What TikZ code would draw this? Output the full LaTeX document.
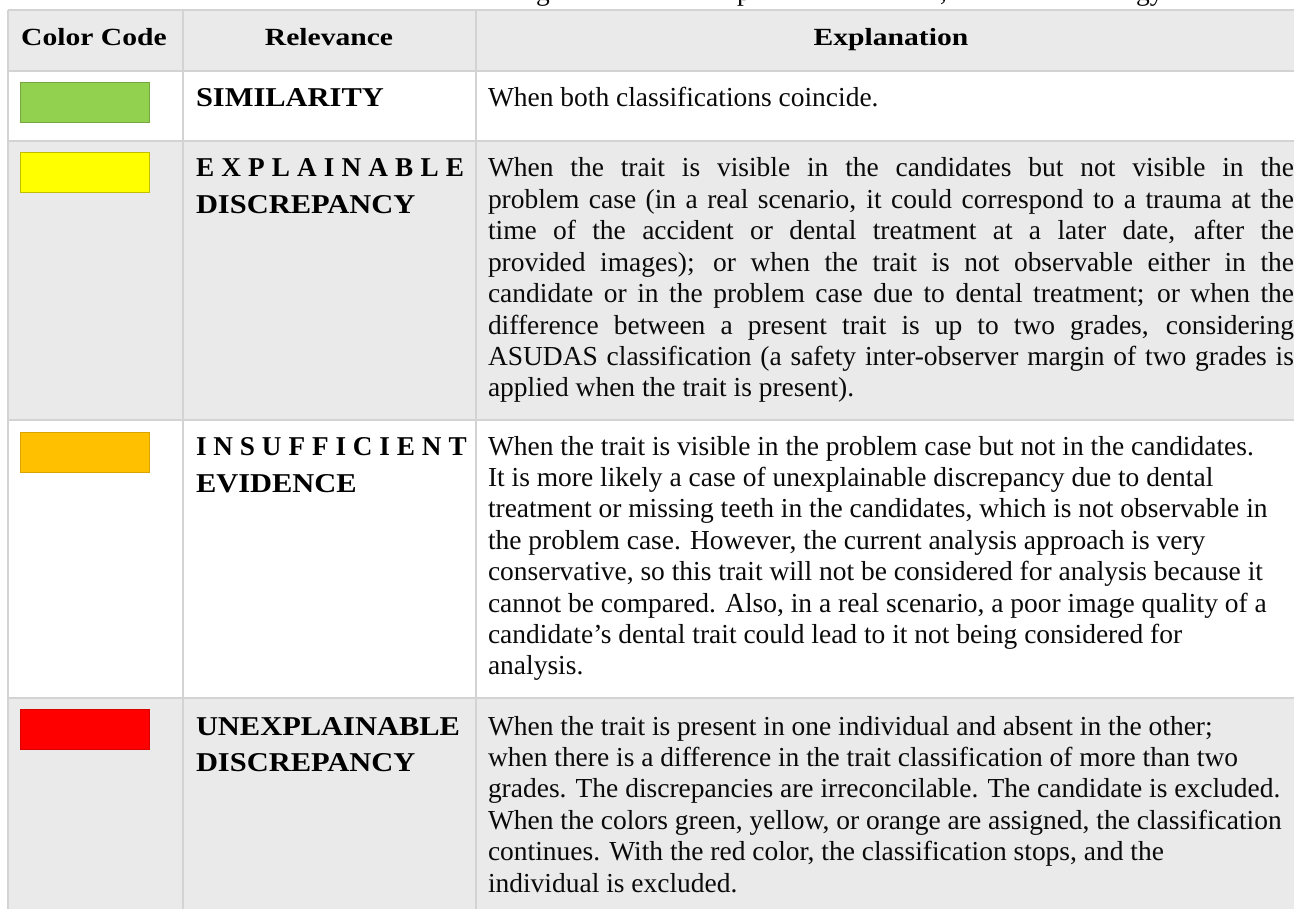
\documentclass[tikz,border=0pt]{standalone}
\usepackage{fontspec}
\setmainfont{Liberation Serif}
\definecolor{hdrgray}{HTML}{EAEAEA}
\definecolor{gridgray}{HTML}{D3D3D3}
\definecolor{cgreen}{HTML}{92D050}
\definecolor{cyellow}{HTML}{FFFF00}
\definecolor{corange}{HTML}{FFC000}
\definecolor{cred}{HTML}{FF0000}
\definecolor{ink}{HTML}{0A0A0A}
\newcommand{\jl}[1]{\makebox[604.5pt][s]{#1}}
\begin{document}
\begin{tikzpicture}[x=0.75pt,y=-0.75pt,
  txt/.style={anchor=base west, inner sep=0pt, outer sep=0pt, text=ink, font=\fontsize{20.6}{25}\selectfont},
  rel/.style={anchor=base west, inner sep=0pt, outer sep=0pt, text=black, font=\bfseries\fontsize{20.4}{24}\selectfont},
  hdr/.style={anchor=base, inner sep=0pt, outer sep=0pt, text=black, font=\bfseries\fontsize{18.5}{22}\selectfont},
  hline/.style={draw=gridgray, line width=1.2pt},
  vline/.style={draw=gridgray, line width=0.8pt},
  swatch/.style={line width=0.6pt}]
\useasboundingbox (0,0) rectangle (1294,909);
\clip (0,0) rectangle (1294,909);
\fill[white] (0,0) rectangle (1294,909);
% row backgrounds
\fill[hdrgray] (8,10) rectangle (1306,71);
\fill[hdrgray] (8,141) rectangle (1306,420);
\fill[hdrgray] (8,698) rectangle (1306,930);
% grid
\foreach \yy in {10,71,141,420,698} \draw[hline] (8,\yy) -- (1306,\yy);
\foreach \xx in {8,183,476} \draw[vline] (\xx,10) -- (\xx,930);
% caption fragments (cut off at top, as in the reference)
\node[txt] (cap1) at (536,1.0) {g};
\node[txt] (cap2) at (737,1.0) {p};
\node[txt] (cap3) at (940,1.0) {,};
\node[txt] (cap4) at (1136,1.0) {gy};
% header
\node[hdr] (h1) at (94,46) {\scalebox{1.2}[1]{Color Code}};
\node[hdr] (h2) at (329,46) {\scalebox{1.2}[1]{Relevance}};
\node[hdr] (h3) at (891,46) {\scalebox{1.2}[1]{Explanation}};
% swatches
\draw[swatch, fill=cgreen, draw=cgreen!80!black] (20,82) rectangle (149,122);
\draw[swatch, fill=cyellow, draw=cyellow!75!black] (20,152) rectangle (149,192);
\draw[swatch, fill=corange, draw=corange!85!black] (20,432) rectangle (149,472);
\draw[swatch, fill=cred, draw=cred!85!black] (20,709) rectangle (149,749);
% relevance
\node[rel] (r1) at (196,107) {\scalebox{1.12}[1]{SIMILARITY}};
\node[rel] (r2a) at (196,177) {\makebox[201pt]{E\hfill X\hfill P\hfill L\hfill A\hfill I\hfill N\hfill A\hfill B\hfill L\hfill E}};
\node[rel] (r2b) at (196,214) {\scalebox{1.12}[1]{DISCREPANCY}};
\node[rel] (r3a) at (196,455) {\makebox[203pt]{I\hfill N\hfill S\hfill U\hfill F\hfill F\hfill I\hfill C\hfill I\hfill E\hfill N\hfill T}};
\node[rel] (r3b) at (196,492) {\scalebox{1.12}[1]{EVIDENCE}};
\node[rel] (r4a) at (196,735) {\scalebox{1.12}[1]{UNEXPLAINABLE}};
\node[rel] (r4b) at (196,771) {\scalebox{1.12}[1]{DISCREPANCY}};
% explanations row 1
\node[txt] (e1) at (488,107) {When both classifications coincide.};
% row 2 (justified)
\node[txt] (e2a) at (488,177.0) {\jl{When the trait is visible in the candidates but not visible in the}};
\node[txt] (e2b) at (488,208.4) {\jl{problem case (in a real scenario, it could correspond to a trauma at the}};
\node[txt] (e2c) at (488,239.8) {\jl{time of the accident or dental treatment at a later date, after the}};
\node[txt] (e2d) at (488,271.2) {\jl{provided images); or when the trait is not observable either in the}};
\node[txt] (e2e) at (488,302.6) {\jl{candidate or in the problem case due to dental treatment; or when the}};
\node[txt] (e2f) at (488,334.0) {\jl{difference between a present trait is up to two grades, considering}};
\node[txt] (e2g) at (488,365.4) {\jl{ASUDAS classification (a safety inter-observer margin of two grades is}};
\node[txt] (e2h) at (488,396.8) {applied when the trait is present).};
% row 3
\node[txt] (e3a) at (488,455.0) {When the trait is visible in the problem case but not in the candidates.};
\node[txt] (e3b) at (488,486.4) {It is more likely a case of unexplainable discrepancy due to dental};
\node[txt] (e3c) at (488,517.8) {treatment or missing teeth in the candidates, which is not observable in};
\node[txt] (e3d) at (488,549.2) {the problem case. However, the current analysis approach is very};
\node[txt] (e3e) at (488,580.6) {conservative, so this trait will not be considered for analysis because it};
\node[txt] (e3f) at (488,612.0) {cannot be compared. Also, in a real scenario, a poor image quality of a};
\node[txt] (e3g) at (488,643.4) {candidate’s dental trait could lead to it not being considered for};
\node[txt] (e3h) at (488,674.8) {analysis.};
% row 4
\node[txt] (e4a) at (488,735.0) {When the trait is present in one individual and absent in the other;};
\node[txt] (e4b) at (488,766.4) {when there is a difference in the trait classification of more than two};
\node[txt] (e4c) at (488,797.8) {grades. The discrepancies are irreconcilable. The candidate is excluded.};
\node[txt] (e4d) at (488,829.2) {When the colors green, yellow, or orange are assigned, the classification};
\node[txt] (e4e) at (488,860.6) {continues. With the red color, the classification stops, and the};
\node[txt] (e4f) at (488,892.0) {individual is excluded.};
\end{tikzpicture}
\end{document}
